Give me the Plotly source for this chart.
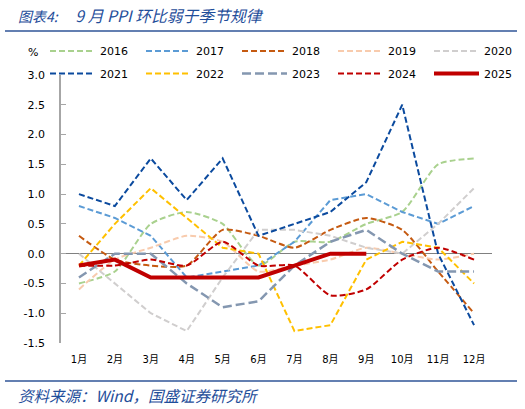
import plotly.graph_objects as go

months = ["1月", "2月", "3月", "4月", "5月", "6月", "7月", "8月", "9月", "10月", "11月", "12月"]

y2016 = [-0.5, -0.3, 0.5, 0.7, 0.5, -0.2, 0.2, 0.2, 0.5, 0.7, 1.5, 1.6]
y2017 = [0.8, 0.6, 0.3, -0.4, -0.3, -0.2, 0.2, 0.9, 1.0, 0.7, 0.5, 0.8]
y2018 = [0.3, -0.1, -0.2, -0.2, 0.4, 0.3, 0.1, 0.4, 0.6, 0.4, -0.3, -1.0]
y2019 = [-0.6, -0.1, 0.1, 0.3, 0.2, -0.3, -0.2, -0.1, 0.1, 0.0, -0.1, 0.0]
y2020 = [0.0, -0.5, -1.0, -1.3, -0.4, 0.4, 0.4, 0.3, 0.1, 0.0, 0.5, 1.1]
y2021 = [1.0, 0.8, 1.6, 0.9, 1.6, 0.3, 0.5, 0.7, 1.2, 2.5, 0.0, -1.2]
y2022 = [-0.2, 0.5, 1.1, 0.6, 0.1, 0.0, -1.3, -1.2, -0.1, 0.2, 0.1, -0.5]
y2023 = [-0.4, 0.0, 0.0, -0.5, -0.9, -0.8, -0.2, 0.2, 0.4, 0.0, -0.3, -0.3]
y2024 = [-0.2, -0.2, -0.1, -0.2, 0.2, -0.2, -0.2, -0.7, -0.6, -0.1, 0.1, -0.1]
y2025 = [-0.2, -0.1, -0.4, -0.4, -0.4, -0.4, -0.2, 0.0, 0.0]

ytick_vals = [3.0, 2.5, 2.0, 1.5, 1.0, 0.5, 0.0, -0.5, -1.0, -1.5]
ytick_text = ["3.0", "2.5", "2.0", "1.5", "1.0", "0.5", "0.0", "-0.5", "-1.0", "-1.5"]

NB = "\u00a0"
title_text = ("<span style='font-size:14px'>图表4:</span>" + NB * 5 + "9" + NB + "月" + NB
              + "PPI" + NB + "环比弱于季节规律")
source_text = "资料来源：Wind，国盛证券研究所"
unit_text = "%"

series = [
    ("2016", y2016, "#A9D18E", 2, "6px,3px", "spline", "legend"),
    ("2017", y2017, "#5B9BD5", 2, "6px,3px", "linear", "legend"),
    ("2018", y2018, "#C55A11", 2, "6px,3px", "spline", "legend"),
    ("2019", y2019, "#F8CBAD", 2, "6px,3px", "spline", "legend"),
    ("2020", y2020, "#D0CECE", 2, "6px,3px", "linear", "legend"),
    ("2021", y2021, "#0B4A9E", 2, "6px,3px", "linear", "legend2"),
    ("2022", y2022, "#FFC000", 2, "6px,3px", "linear", "legend2"),
    ("2023", y2023, "#8497B0", 2.5, "9px,4px", "linear", "legend2"),
    ("2024", y2024, "#C00000", 2, "6px,3px", "spline", "legend2"),
    ("2025", y2025, "#C00000", 4, "solid", "linear", "legend2"),
]

fig = go.Figure()
for name, ys, color, width, dash, shape, leg in series:
    line = dict(color=color, width=width, dash=dash, shape=shape)
    if shape == "spline":
        line["smoothing"] = 0.6
    fig.add_trace(go.Scatter(
        x=months[:len(ys)], y=ys, mode="lines", name=name,
        line=line, legend=leg,
    ))

W, H = 525, 409
L, R, T, B = 61, 33, 75, 66
pw, ph = W - L - R, H - T - B

def px_x(x):
    return (x - L) / pw

def px_y(y):
    return 1 - (y - T) / ph

legend_common = dict(
    orientation="h", xanchor="left", yanchor="middle",
    font=dict(family="DejaVu Sans", size=11, color="#000000"),
    bgcolor="rgba(0,0,0,0)", entrywidth=36, entrywidthmode="pixels",
    itemwidth=45, traceorder="normal",
)

fig.update_layout(
    width=W, height=H,
    margin=dict(l=L, r=R, t=T, b=B),
    paper_bgcolor="white", plot_bgcolor="white",
    showlegend=True,
    legend=dict(x=px_x(55), y=px_y(51), **legend_common),
    legend2=dict(x=px_x(55), y=px_y(73.5), **legend_common),
    xaxis=dict(
        type="category", categoryorder="array", categoryarray=months,
        range=[-0.5, 11.5], showline=False, showgrid=False, zeroline=False,
        ticks="", tickfont=dict(family="DejaVu Sans, Noto Sans CJK SC", size=10, color="#000000"),
        ticklabelstandoff=9,
    ),
    yaxis=dict(
        range=[-1.5, 3.0], autorange=False,
        tickvals=ytick_vals, ticktext=ytick_text,
        showline=True, linecolor="#A6A6A6", linewidth=1.5,
        ticks="inside", ticklen=5, tickcolor="#A6A6A6", tickwidth=1,
        showgrid=False, zeroline=True, zerolinecolor="#808080", zerolinewidth=1,
        tickfont=dict(family="DejaVu Sans", size=11, color="#000000"),
        ticklabelstandoff=12,
    ),
    annotations=[
        dict(text=title_text, xref="paper", yref="paper", x=px_x(16), y=px_y(15),
             xanchor="left", yanchor="middle", showarrow=False,
             font=dict(family="Noto Sans CJK SC", size=15.8, color="#1F4E9A", style="italic")),
        dict(text=source_text, xref="paper", yref="paper", x=px_x(16), y=px_y(395),
             xanchor="left", yanchor="middle", showarrow=False,
             font=dict(family="Noto Sans CJK SC", size=15.5, color="#1F4E9A", style="italic")),
        dict(text=unit_text, xref="paper", yref="paper", x=px_x(33), y=px_y(52),
             xanchor="center", yanchor="middle", showarrow=False,
             font=dict(family="DejaVu Sans", size=11, color="#000000")),
    ],
    shapes=[
        dict(type="line", xref="paper", yref="paper", x0=px_x(5), x1=px_x(517),
             y0=px_y(31), y1=px_y(31), line=dict(color="#2F5597", width=1.5)),
        dict(type="line", xref="paper", yref="paper", x0=px_x(5), x1=px_x(517),
             y0=px_y(381), y1=px_y(381), line=dict(color="#2F5597", width=1.5)),
    ],
)

fig.write_html("out.html", config={"displayModeBar": False},
               post_script="document.body.style.margin='0';")
